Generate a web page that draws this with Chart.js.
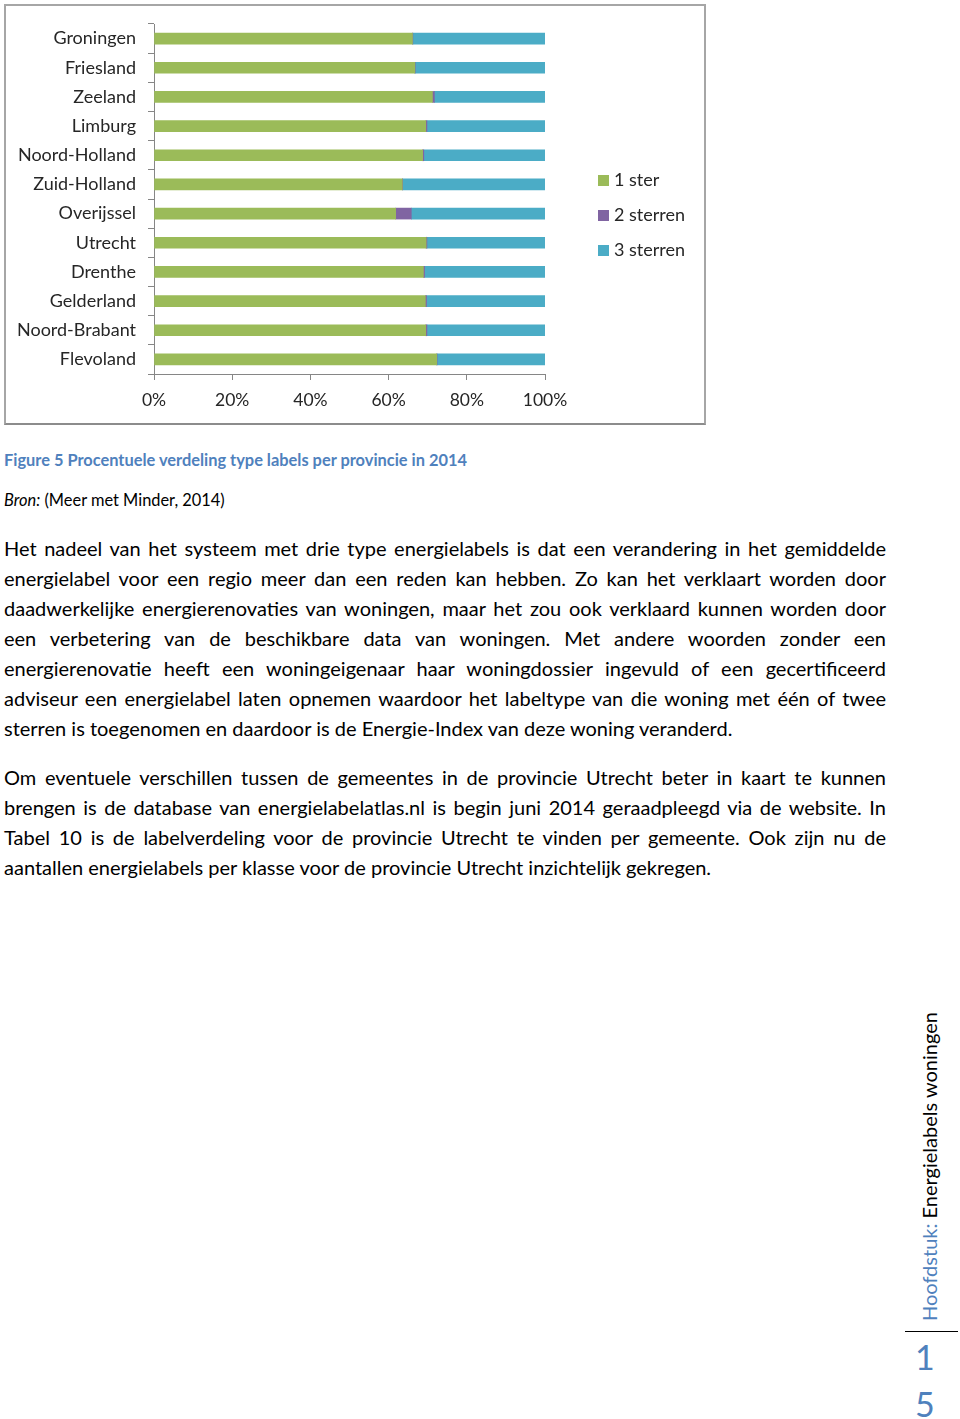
<!DOCTYPE html>
<html>
<head>
<meta charset="utf-8">
<script src="https://cdn.jsdelivr.net/npm/chart.js@4/dist/chart.umd.min.js"></script>
<style>
  html, body { margin: 0; padding: 0; background: #fff; }
  body { width: 960px; height: 1419px; position: relative; overflow: hidden; font-family: Lato, "Open Sans", sans-serif; color: #000; }
  #box { position: absolute; left: 4px; top: 4px; width: 698px; height: 417px; border: 2px solid #a6a6a6; border-bottom-color: #8c8c8c; }
  #wrap { position: absolute; left: 0; top: 0; width: 698px; height: 417px; }
  #legend { position: absolute; left: 592px; top: 162px; font-size: 18px; color: #262626; }
  #legend div { height: 35px; line-height: 22px; white-space: nowrap; }
  #legend span.sw { display: inline-block; width: 11px; height: 11px; margin-right: 5px; vertical-align: 0px; }
  .caption { position: absolute; left: 4px; top: 450px; font-size: 16.4px; font-weight: bold; color: #4f81bd; }
  .bron { position: absolute; left: 4px; top: 490px; font-size: 16.4px; }
  .para { position: absolute; left: 4px; width: 882px; font-size: 20px; line-height: 30px; }
  .para .l { text-align: justify; text-align-last: justify; white-space: nowrap; display: block; height: 30px; }
  .para .l.last { text-align-last: left; }
  .side { position: absolute; left: 917px; top: 1321px; transform-origin: 0 0; transform: rotate(-90deg); font-size: 20px; white-space: nowrap; line-height: 24px; }
  .side .b { color: #4f81bd; }
  .hr { position: absolute; left: 905px; top: 1331px; width: 53px; height: 1px; background: #000; }
  .num { position: absolute; left: 915px; font-size: 34px; color: #4f81bd; line-height: 40px; }
</style>
</head>
<body>
<div id="box">
  <div id="wrap"><canvas id="c" width="698" height="417"></canvas></div>
  <div id="legend"></div>
</div>
<div class="caption">Figure 5 Procentuele verdeling type labels per provincie in 2014</div>
<div class="bron"><i>Bron:</i> (Meer met Minder, 2014)</div>
<div class="para" style="top:533px">
  <span class="l">Het nadeel van het systeem met drie type energielabels is dat een verandering in het gemiddelde</span>
  <span class="l">energielabel voor een regio meer dan een reden kan hebben. Zo kan het verklaart worden door</span>
  <span class="l">daadwerkelijke energierenovaties van woningen, maar het zou ook verklaard kunnen worden door</span>
  <span class="l">een verbetering van de beschikbare data van woningen. Met andere woorden zonder een</span>
  <span class="l">energierenovatie heeft een woningeigenaar haar woningdossier ingevuld of een gecertificeerd</span>
  <span class="l">adviseur een energielabel laten opnemen waardoor het labeltype van die woning met één of twee</span>
  <span class="l last">sterren is toegenomen en daardoor is de Energie-Index van deze woning veranderd.</span>
</div>
<div class="para" style="top:762px">
  <span class="l">Om eventuele verschillen tussen de gemeentes in de provincie Utrecht beter in kaart te kunnen</span>
  <span class="l">brengen is de database van energielabelatlas.nl is begin juni 2014 geraadpleegd via de website. In</span>
  <span class="l">Tabel 10 is de labelverdeling voor de provincie Utrecht te vinden per gemeente. Ook zijn nu de</span>
  <span class="l last">aantallen energielabels per klasse voor de provincie Utrecht inzichtelijk gekregen.</span>
</div>
<div class="side"><span class="b">Hoofdstuk:</span> Energielabels woningen</div>
<div class="hr"></div>
<div class="num" style="top:1337px">1</div>
<div class="num" style="top:1384px">5</div>
<script>
const categories = ['Groningen','Friesland','Zeeland','Limburg','Noord-Holland','Zuid-Holland','Overijssel','Utrecht','Drenthe','Gelderland','Noord-Brabant','Flevoland'];
const seriesNames = ['1 ster','2 sterren','3 sterren'];
const ster1 = [66.1, 66.7, 71.2, 69.5, 68.7, 63.5, 61.8, 69.6, 68.9, 69.4, 69.5, 72.3];
const ster2 = [0.1, 0.1, 0.5, 0.3, 0.3, 0.1, 4.0, 0.2, 0.3, 0.3, 0.3, 0.1];
const ster3 = [33.8, 33.2, 28.3, 30.2, 31.0, 36.4, 34.2, 30.2, 30.8, 30.3, 30.2, 27.6];
const xTicks = [0, 20, 40, 60, 80, 100];
const colors = ['#9bbb59', '#8064a2', '#4bacc6'];

const leg = document.getElementById('legend');
seriesNames.forEach((n, i) => {
  const d = document.createElement('div');
  d.innerHTML = '<span class="sw" style="background:' + colors[i] + '"></span>' + n;
  leg.appendChild(d);
});

const yFont = { family: 'Lato, "Open Sans", sans-serif', size: 18 };
const xFont = { family: 'Lato, "Open Sans", sans-serif', size: 17.5 };
new Chart(document.getElementById('c'), {
  type: 'bar',
  data: {
    labels: categories,
    datasets: [ster1, ster2, ster3].map((d, i) => ({
      label: seriesNames[i], data: d, backgroundColor: colors[i], borderWidth: 0, barThickness: 11
    }))
  },
  options: {
    indexAxis: 'y',
    responsive: false,
    animation: false,
    layout: { padding: { left: 0, right: 159, top: 18, bottom: 0 } },
    plugins: { legend: { display: false }, tooltip: { enabled: false } },
    scales: {
      y: {
        stacked: true,
        afterFit: s => { s.width = 148; s.paddingTop = 0; s.paddingBottom = 0; },
        grid: { drawOnChartArea: false, tickLength: 6, color: '#868686' },
        border: { color: '#868686', width: 1 },
        ticks: { font: yFont, color: '#262626', padding: 12 }
      },
      x: {
        stacked: true, min: 0, max: 100,
        afterFit: s => { s.height = 49; s.paddingLeft = 0; s.paddingRight = 0; },
        afterBuildTicks: s => { s.ticks = xTicks.map(v => ({ value: v })); },
        grid: { drawOnChartArea: false, tickLength: 6, color: '#868686' },
        border: { color: '#868686', width: 1 },
        ticks: { font: xFont, color: '#262626', padding: 10, callback: v => v + '%' }
      }
    }
  }
});
</script>
</body>
</html>
